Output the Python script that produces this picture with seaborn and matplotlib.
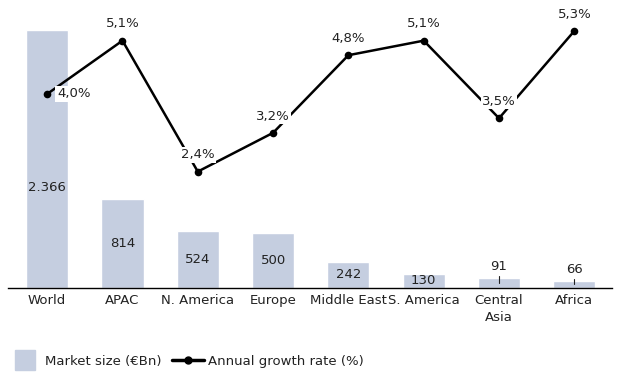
import pandas as pd
import matplotlib.pyplot as plt
import seaborn as sns
from matplotlib.lines import Line2D

regions = ['World', 'APAC', 'N. America', 'Europe', 'Middle East', 'S. America', 'Central\nAsia', 'Africa']
market_size = [2366, 814, 524, 500, 242, 130, 91, 66]
size_labels = ['2.366', '814', '524', '500', '242', '130', '91', '66']
growth = [4.0, 5.1, 2.4, 3.2, 4.8, 5.1, 3.5, 5.3]
growth_labels = ['4,0%', '5,1%', '2,4%', '3,2%', '4,8%', '5,1%', '3,5%', '5,3%']

bar_color = '#C5CEE0'
text_color = '#222222'

sns.set_style('white')
plt.rcParams['font.family'] = ['DejaVu Sans']

df = pd.DataFrame({'region': regions, 'size': market_size, 'growth': growth})

fig = plt.figure(figsize=(6.2, 3.74), dpi=100)
ax = fig.add_axes([8 / 620, 1 - 288 / 374, 604 / 620, 270 / 374])
sns.barplot(data=df, x='region', y='size', color=bar_color, width=0.56, saturation=1, ax=ax)
ax.set_ylim(0, 2476)
ax.set_xlim(-0.52, 7.5)

# bar value labels
for i, (v, lab) in enumerate(zip(market_size, size_labels)):
    if i == 0:
        ax.text(i, 926, lab, ha='center', va='center', fontsize=9.5, color=text_color)
    elif v < 100:
        ax.text(i, v + 105, lab, ha='center', va='center', fontsize=9.5, color=text_color)
        ax.plot([i, i], [v * 0.5, v + 20], color=text_color, lw=0.8)
    else:
        ax.text(i, v / 2, lab, ha='center', va='center', fontsize=9.5, color=text_color)

ax2 = ax.twinx()
sns.lineplot(data=df, x='region', y='growth', color='black', marker='o', markersize=5.5,
             markeredgewidth=0, linewidth=1.8, ax=ax2, sort=False)
ax2.set_ylim(0, 270 / 48.5)

for i, (g, lab) in enumerate(zip(growth, growth_labels)):
    if i == 0:
        ax2.annotate(lab, (i, g), xytext=(7, 0), textcoords='offset points', ha='left', va='center',
                     fontsize=9.5, color=text_color,
                     bbox=dict(boxstyle='square,pad=0.15', fc='white', ec='none'))
    else:
        ax2.annotate(lab, (i, g), xytext=(0, 12), textcoords='offset points', ha='center', va='center',
                     fontsize=9.5, color=text_color,
                     bbox=dict(boxstyle='square,pad=0.1', fc='white', ec='none'))

for a in (ax, ax2):
    for s in ['top', 'right', 'left']:
        a.spines[s].set_visible(False)
    a.set_xlabel('')
    a.set_ylabel('')
    a.set_yticks([])
ax2.spines['bottom'].set_visible(False)
ax.spines['bottom'].set_color('black')
ax.spines['bottom'].set_linewidth(1)
ax.tick_params(axis='x', length=0, pad=4, labelsize=9.5, labelcolor=text_color)
for t in ax.get_xticklabels():
    t.set_linespacing(1.4)

handles = [
    Line2D([], [], marker='s', markersize=14, linestyle='none', color=bar_color),
    Line2D([], [], marker='o', markersize=5, linewidth=2.5, color='black'),
]
fig.legend(handles, ['Market size (€Bn)', 'Annual growth rate (%)'], loc='center left',
           bbox_to_anchor=(0.0, 1 - 361 / 374), ncol=2, frameon=False, fontsize=9.5,
           handlelength=2.4, handletextpad=0.3, columnspacing=0.8, borderaxespad=0.3,
           labelcolor=text_color)

fig.savefig('out.png', dpi=100)
